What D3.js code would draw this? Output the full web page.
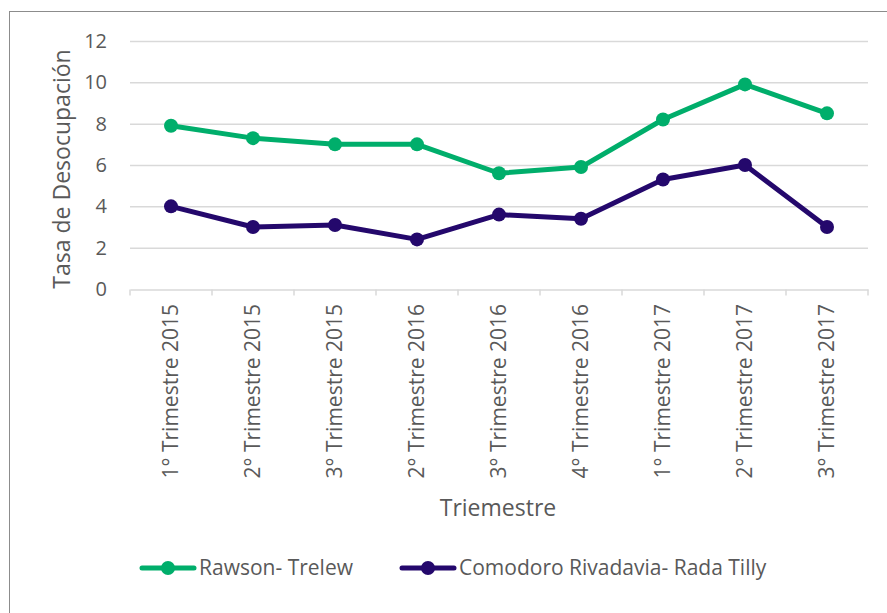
<!DOCTYPE html>
<meta charset="utf-8">
<style>
  body { margin: 0; background: #fff; font-family: "Open Sans", Lato, sans-serif; }
  svg text { fill: #595959; }
</style>
<body>
<script src="https://cdn.jsdelivr.net/npm/d3@7/dist/d3.min.js"></script>
<script>
  'use strict';

  const categories = ["1° Trimestre 2015", "2° Trimestre 2015", "3° Trimestre 2015",
                      "2° Trimestre 2016", "3° Trimestre 2016", "4° Trimestre 2016",
                      "1° Trimestre 2017", "2° Trimestre 2017", "3° Trimestre 2017"];
  const rawson = [7.9, 7.3, 7.0, 7.0, 5.6, 5.9, 8.2, 9.9, 8.5];
  const comodoro = [4.0, 3.0, 3.1, 2.4, 3.6, 3.4, 5.3, 6.0, 3.0];
  const yTicks = [0, 2, 4, 6, 8, 10, 12];
  const seriesNames = ["Rawson- Trelew", "Comodoro Rivadavia- Rada Tilly"];
  const colors = ["#00ae6b", "#24086c"];

  const width = 887, height = 613;
  const svg = d3.select("body").append("svg")
      .attr("width", width).attr("height", height);

  // chart frame
  svg.append("rect")
      .attr("x", 9.5).attr("y", 11.5)
      .attr("width", 900).attr("height", 620)
      .attr("fill", "none").attr("stroke", "#8c8c8c");

  const x = d3.scaleBand().domain(categories).range([130, 868]);
  const y = d3.scaleLinear().domain([0, 12]).range([289, 41]);

  // gridlines
  svg.append("g").selectAll("line")
      .data(yTicks.filter(d => d > 0))
      .join("line")
      .attr("x1", 130).attr("x2", 868)
      .attr("y1", d => y(d) + 0.5).attr("y2", d => y(d) + 0.5)
      .attr("stroke", "#d9d9d9").attr("stroke-width", 1.5);

  // y axis labels
  svg.append("g").selectAll("text")
      .data(yTicks)
      .join("text")
      .attr("x", 107).attr("y", d => y(d))
      .attr("dy", "0.35em")
      .attr("text-anchor", "end")
      .style("font-size", "20px")
      .text(d => d);

  // x axis
  const xAxis = svg.append("g").attr("transform", "translate(0,289.5)")
      .call(d3.axisBottom(x).tickSize(0).tickFormat(""));
  xAxis.select(".domain").attr("stroke", "#d9d9d9").attr("stroke-width", 1.5);
  xAxis.selectAll(".bound")
      .data(d3.range(categories.length + 1))
      .join("line")
      .attr("x1", i => 130 + i * x.step()).attr("x2", i => 130 + i * x.step())
      .attr("y1", 0).attr("y2", 6)
      .attr("stroke", "#d9d9d9").attr("stroke-width", 1.5);

  svg.append("g").selectAll("text")
      .data(categories)
      .join("text")
      .attr("transform", d => `translate(${x(d) + x.bandwidth() / 2},304) rotate(-90)`)
      .attr("dy", "0.35em")
      .attr("text-anchor", "end")
      .style("font-size", "21px")
      .text(d => d);

  // axis titles
  svg.append("text")
      .attr("transform", "translate(62,169) rotate(-90)")
      .attr("dy", "0.35em")
      .attr("text-anchor", "middle")
      .style("font-size", "23px")
      .text("Tasa de Desocupación");

  svg.append("text")
      .attr("x", 498).attr("y", 508)
      .attr("dy", "0.35em")
      .attr("text-anchor", "middle")
      .style("font-size", "23px")
      .text("Triemestre");

  // series
  const line = d3.line()
      .x((d, i) => x(categories[i]) + x.bandwidth() / 2)
      .y(d => y(d));

  [rawson, comodoro].forEach((vals, s) => {
    const g = svg.append("g");
    g.append("path")
        .attr("d", line(vals))
        .attr("fill", "none")
        .attr("stroke", colors[s])
        .attr("stroke-width", 5)
        .attr("stroke-linejoin", "round");
    g.selectAll("circle")
        .data(vals)
        .join("circle")
        .attr("cx", (d, i) => x(categories[i]) + x.bandwidth() / 2)
        .attr("cy", d => y(d))
        .attr("r", 7)
        .attr("fill", colors[s]);
  });

  // legend
  const legendX = [140, 400];
  const legend = svg.append("g").selectAll("g")
      .data(seriesNames)
      .join("g")
      .attr("transform", (d, i) => `translate(${legendX[i]},568)`);
  legend.append("line")
      .attr("x1", 2).attr("x2", 54)
      .attr("stroke", (d, i) => colors[i])
      .attr("stroke-width", 5).attr("stroke-linecap", "round");
  legend.append("circle")
      .attr("cx", 28).attr("r", 7)
      .attr("fill", (d, i) => colors[i]);
  legend.append("text")
      .attr("x", 59).attr("dy", "0.35em")
      .style("font-size", "21px")
      .text(d => d);
</script>
</body>
